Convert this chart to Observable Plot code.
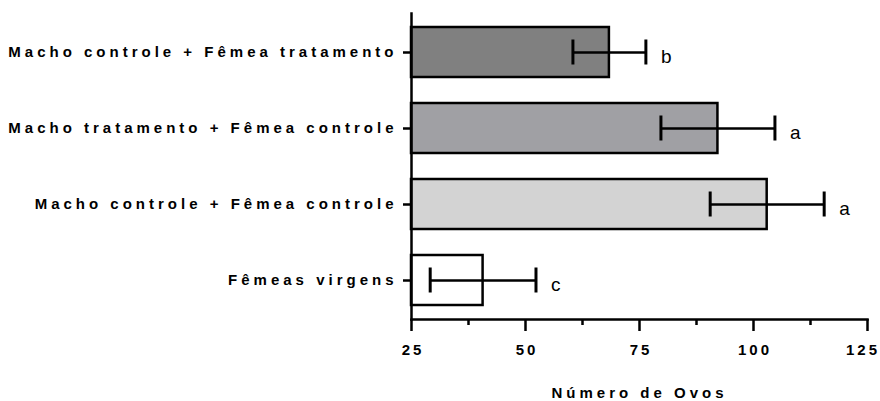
<!DOCTYPE html>
<html>
<head>
<meta charset="utf-8">
<script src="https://cdn.jsdelivr.net/npm/d3@7"></script>
<script src="https://cdn.jsdelivr.net/npm/@observablehq/plot@0.6"></script>
<style>
  html, body { margin: 0; padding: 0; background: #fff; }
</style>
</head>
<body>
<div id="chart"></div>
<script>
// Treatment groups, top to bottom
const categories = [
  "Macho controle + Fêmea tratamento",
  "Macho tratamento + Fêmea controle",
  "Macho controle + Fêmea controle",
  "Fêmeas virgens"
];
// Mean number of eggs and its error
const means = [68.4, 92.2, 103.0, 40.7];
const errors = [8.0, 12.5, 12.5, 11.6];
// Significance letters
const letters = ["b", "a", "a", "c"];
// Bar fills
const fills = ["#808080", "#a0a0a4", "#d3d3d3", "#ffffff"];
// Axis ticks
const majorTicks = [25, 50, 75, 100, 125];
const minorTicks = [37.5, 62.5, 87.5, 112.5];
const xMin = 25;

const rows = categories.map((name, i) => ({
  name,
  mean: means[i],
  lo: means[i] - errors[i],
  hi: means[i] + errors[i],
  letter: letters[i],
  fill: fills[i]
}));

const font = "'Liberation Sans', Arial, Helvetica, sans-serif";

const chart = Plot.plot({
  width: 880,
  height: 401,
  marginLeft: 411,
  marginRight: 13,
  marginTop: 13,
  marginBottom: 82,
  style: { fontFamily: font, background: "#fff", color: "#000", overflow: "visible" },
  x: { domain: [xMin, 125] },
  y: { domain: categories, paddingInner: 0.345, paddingOuter: 0.18 },
  marks: [
    Plot.barX(rows, {
      x1: xMin, x2: "mean", y: "name",
      fill: "fill", stroke: "#000", strokeWidth: 2.5
    }),
    // error bar stems and caps
    Plot.ruleY(rows, { x1: "lo", x2: "hi", y: "name", stroke: "#000", strokeWidth: 2.5 }),
    Plot.tickX(rows, { x: "lo", y: "name", stroke: "#000", strokeWidth: 3, insetTop: 12.5, insetBottom: 12.5 }),
    Plot.tickX(rows, { x: "hi", y: "name", stroke: "#000", strokeWidth: 3, insetTop: 12.5, insetBottom: 12.5 }),
    Plot.text(rows, {
      x: "hi", y: "name", text: "letter",
      textAnchor: "start", dx: 15, dy: 4,
      fontSize: 19, fill: "#000"
    }),
    Plot.frame({ anchor: "left", stroke: "#000", strokeWidth: 2.5 }),
    Plot.frame({ anchor: "bottom", stroke: "#000", strokeWidth: 2.5 }),
    Plot.axisY({
      tickSize: 8, tickPadding: 6, strokeWidth: 2.5,
      fontSize: 15, fontWeight: "bold", label: null
    }),
    Plot.axisX(majorTicks, {
      tickSize: 12, tickPadding: 13, strokeWidth: 2.5,
      fontSize: 15, fontWeight: "bold",
      label: "Número de Ovos", labelArrow: "none", labelAnchor: "center", labelOffset: 78
    }),
    Plot.axisX(minorTicks, {
      tickSize: 6, strokeWidth: 2.5, text: null, label: null
    })
  ]
});

document.getElementById("chart").appendChild(chart);
// wide tracking on the axis texts
const svg = d3.select(chart);
svg.selectAll("[aria-label='y-axis tick label'] text").style("letter-spacing", "4px");
const xLabels = svg.selectAll("[aria-label='x-axis tick label'] text")
  .filter(function () { return this.textContent.trim() !== ""; })
  .style("letter-spacing", "3px")
  .attr("dx", 1.5);
// keep the last tick label inside the right edge
const xNodes = xLabels.nodes();
d3.select(xNodes[xNodes.length - 1])
  .attr("text-anchor", "end")
  .attr("dx", 12.5);
svg.selectAll("[aria-label='x-axis label'] text")
  .style("letter-spacing", "4px")
  .text(function () { return this.textContent.replace(/\s*→$/, ""); });
</script>
</body>
</html>
